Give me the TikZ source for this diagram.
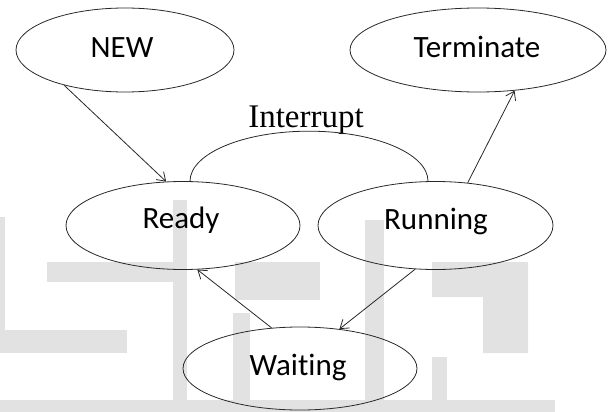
\documentclass[tikz,border=0pt]{standalone}
\usepackage{fontspec}
\setmainfont{Carlito}[Ligatures=NoCommon]
\newfontfamily\serifface{Liberation Serif}
\usetikzlibrary{shapes.geometric,arrows.meta}
\definecolor{wm}{RGB}{226,226,226}
\definecolor{ink}{RGB}{40,40,40}
\tikzset{
  state/.style={draw=ink,line width=0.8pt,ellipse,inner sep=0pt},
  lbl/.style={anchor=base,font=\fontsize{31}{32}\selectfont,text=black,inner sep=0pt},
  conn/.style={draw=ink,line width=0.8pt,-{Straight Barb[length=8pt,width=11pt,line width=0.8pt]}},
  wmark/.style={fill=wm,draw=none}
}
\begin{document}
\begin{tikzpicture}[x=1pt,y=-1pt]
\useasboundingbox (0,0) rectangle (610,412);
% watermark
\fill[wmark] (0,217) rectangle (5,353);
\fill[wmark] (47,262) rectangle (173,282);
\fill[wmark] (0,330) rectangle (127,353);
\fill[wmark] (173,200) rectangle (187,400);
\fill[wmark] (0,400) rectangle (555,412);
\fill[wmark] (235,262) rectangle (320,300);
\fill[wmark] (233,313) rectangle (250,400);
\fill[wmark] (365,220) rectangle (384,400);
\fill[wmark] (432,262) -- (528,262) -- (528,353) -- (483,353) -- (483,297) -- (432,297) -- cycle;
\fill[wmark] (432,357) rectangle (447,400);
% states
\node[state,minimum width=218pt,minimum height=84pt] (new) at (125,50) {};
\node[state,minimum width=256pt,minimum height=84pt] (term) at (478,50) {};
\node[state,minimum width=234pt,minimum height=88pt] (ready) at (183,225.5) {};
\node[state,minimum width=235pt,minimum height=88pt] (run) at (435.5,225.5) {};
\node[state,minimum width=234pt,minimum height=83pt] (wait) at (300,368.5) {};
% labels
\node[lbl] (newt) at (122,57) {NEW};
\node[lbl] (termt) at (477,57) {Terminate};
\node[lbl] (readyt) at (181,228) {Ready};
\node[lbl] (runt) at (436,229) {Running};
\node[lbl] (waitt) at (298,375) {Waiting};
\node[anchor=base,inner sep=0pt,font=\serifface\fontsize{33}{34}\selectfont] (intt) at (306,127) {Interrupt};
% connectors
\draw[conn] (new.210) -- (ready.111);
\draw[draw=ink,line width=0.8pt] (ready.81) arc[start angle=-180,end angle=0,x radius=119,y radius=50];
\draw[conn] (run.53) -- (term.-48);
\draw[conn] (run.245) -- (wait.45);
\draw[conn] (wait.125) -- (ready.-72);
\end{tikzpicture}
\end{document}
